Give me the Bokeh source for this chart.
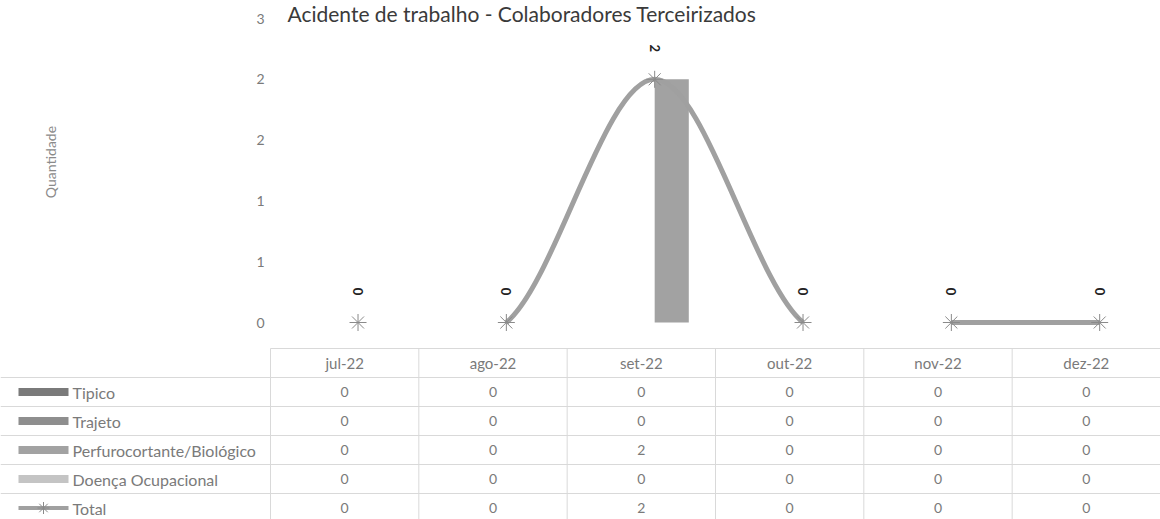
import math
from bokeh.plotting import figure
from bokeh.models import Range1d, FixedTicker, ColumnDataSource, LinearAxis
from bokeh.embed import file_html
from bokeh.resources import INLINE
from bokeh.core.properties import value

# ---------------- data ----------------
months = ["jul-22", "ago-22", "set-22", "out-22", "nov-22", "dez-22"]
series_names = ["Tipico", "Trajeto", "Perfurocortante/Biológico", "Doença Ocupacional"]
tipico = [0, 0, 0, 0, 0, 0]
trajeto = [0, 0, 0, 0, 0, 0]
perfuro = [0, 0, 2, 0, 0, 0]
doenca = [0, 0, 0, 0, 0, 0]
total = [0, 0, 2, 0, 0, 0]
total_name = "Total"
y_ticks = [0, 0.5, 1, 1.5, 2, 2.5]
y_tick_labels = ["0", "1", "1", "2", "2", "3"]
title_text = "Acidente de trabalho - Colaboradores Terceirizados"
y_label = "Quantidade"

# ---------------- styles / layout ----------------
FONT = value("Lato")
series_colors = ["#7a7a7a", "#8e8e8e", "#a2a2a2", "#c4c4c4"]
line_color = "#a0a0a0"
marker_color = "#8a8a8a"
text_gray = "#7a7a7a"
grid_gray = "#d9d9d9"
seg_alpha = [0.0, 1.0, 1.0, 0.0, 1.0]   # segments faded out in the scanned original

W, H = 1160, 519
LEFT_PX = 270            # width of the row-label column (px)
n = len(months)
unit = (W - LEFT_PX) / n  # px per category column
left = -LEFT_PX / unit
row_h = 29               # table row height (px)
tbl_top = 348            # y of the table's top line
zero_px = 322            # y of value 0 in the chart
vpx = 121.6              # px per unit value in the chart
shift = 0.09             # chart drawn slightly right of table columns (as in original)

xs = [i + 0.5 for i in range(n)]

p = figure(width=W, height=H, x_range=Range1d(left, n),
           y_range=Range1d(-(H - zero_px) / vpx, zero_px / vpx),
           x_axis_type=None, y_axis_type=None, output_backend="svg",
           toolbar_location=None, min_border=0)
p.extra_x_ranges = {"chart": Range1d(left - shift, n - shift)}
p.extra_y_ranges = {"tbl": Range1d(-0.5 + (H - tbl_top) / row_h, -0.5 - tbl_top / row_h)}
p.xgrid.visible = False
p.ygrid.visible = False
p.outline_line_color = None
p.background_fill_color = "white"
p.border_fill_color = "white"

ya = LinearAxis(fixed_location=0)
ya.ticker = FixedTicker(ticks=y_ticks)
ya.major_label_overrides = {float(t): l for t, l in zip(y_ticks, y_tick_labels)}
ya.bounds = (0, 2.64)
ya.axis_line_color = None
ya.major_tick_line_color = None
ya.minor_tick_line_color = None
ya.major_label_text_color = text_gray
ya.major_label_text_font = "Lato"
ya.major_label_text_font_size = "14px"
ya.major_label_standoff = 0
ya.axis_label = y_label
ya.axis_label_text_font = "Lato"
ya.axis_label_text_font_size = "14px"
ya.axis_label_text_font_style = "normal"
ya.axis_label_text_color = "#8a8a8a"
ya.axis_label_standoff = 194
p.add_layout(ya, "left")

# clustered bars
bar_w = 0.23
series_vals = [tipico, trajeto, perfuro, doenca]
for s, (vals, col) in enumerate(zip(series_vals, series_colors)):
    off = (s - (len(series_vals) - 1) / 2) * bar_w
    p.vbar(x=[x + off for x in xs], top=vals, bottom=0, width=bar_w,
           fill_color=col, line_color=None, x_range_name="chart")

# smoothed total line (Excel-style cubic bezier through the points)
x0, y0, x1, y1, cx0, cy0, cx1, cy1 = ([] for _ in range(8))
for k in range(n - 1):
    p0 = max(k - 1, 0)
    p3 = min(k + 2, n - 1)
    x0.append(xs[k]); y0.append(total[k])
    x1.append(xs[k + 1]); y1.append(total[k + 1])
    cx0.append(xs[k] + (xs[k + 1] - xs[p0]) / 6)
    cy0.append(total[k] + (total[k + 1] - total[p0]) / 6)
    cx1.append(xs[k + 1] - (xs[p3] - xs[k]) / 6)
    cy1.append(total[k + 1] - (total[p3] - total[k]) / 6)
bsrc = ColumnDataSource(dict(x0=x0, y0=y0, x1=x1, y1=y1, cx0=cx0, cy0=cy0,
                             cx1=cx1, cy1=cy1, a=seg_alpha))
p.bezier(x0="x0", y0="y0", x1="x1", y1="y1", cx0="cx0", cy0="cy0",
         cx1="cx1", cy1="cy1", line_color=line_color, line_width=5,
         line_alpha="a", source=bsrc, x_range_name="chart")
p.scatter(x=xs, y=total, marker="asterisk", size=17, line_color=marker_color,
          line_width=1, x_range_name="chart")

# data labels (rotated)
p.text(x=xs, y=total, text=[str(v) for v in total], angle=-math.pi / 2,
       y_offset=-31, text_align="center", text_baseline="middle",
       text_font=FONT, text_font_size="13px", text_font_style="bold",
       text_color="#222222", x_range_name="chart")

# title
p.text(x=[17 / unit], y=[zero_px / vpx], text=[title_text], text_align="left",
       text_baseline="top", text_font=FONT, text_font_size="21px",
       text_color="#3a3a3a")

# ---------------- data table ----------------
rows = series_names + [total_name]
row_vals = series_vals + [total]
nr = len(rows)

hx0 = [0] + [left] * nr
hx1 = [n] * (nr + 1)
hy = [-0.5] + [r + 0.5 for r in range(nr)]
p.segment(x0=hx0, y0=hy, x1=hx1, y1=hy, line_color=grid_gray, line_width=1,
          y_range_name="tbl")
vxs = list(range(n + 1))
p.segment(x0=vxs, y0=[-0.5] * len(vxs), x1=vxs, y1=[nr + 0.5] * len(vxs),
          line_color=grid_gray, line_width=1, y_range_name="tbl")

# header
p.text(x=xs, y=[0] * n, text=months, text_align="center", text_baseline="middle",
       text_font=FONT, text_font_size="15px", text_color=text_gray, y_range_name="tbl")

# cells
cx, cy, ct = [], [], []
for r, vals in enumerate(row_vals):
    for i, v in enumerate(vals):
        cx.append(xs[i]); cy.append(r + 1); ct.append(str(v))
p.text(x=cx, y=cy, text=ct, text_align="center", text_baseline="middle",
       text_font=FONT, text_font_size="14px", text_color=text_gray, y_range_name="tbl")

# row labels + legend keys
key_l = left + 18 / unit
key_r = left + 68 / unit
key_c = (key_l + key_r) / 2
lab_x = left + 72 / unit
p.text(x=[lab_x] * nr, y=[r + 1 for r in range(nr)], text=rows, text_align="left",
       text_baseline="middle", text_font=FONT, text_font_size="16px",
       text_color=text_gray, y_range_name="tbl")
p.rect(x=[key_c] * len(series_names), y=[r + 1 for r in range(len(series_names))],
       width=key_r - key_l, height=8, height_units="screen",
       fill_color=series_colors, line_color=None, y_range_name="tbl")
p.segment(x0=[key_l], y0=[nr], x1=[key_r], y1=[nr], line_color=line_color,
          line_width=4, y_range_name="tbl")
p.scatter(x=[key_c], y=[nr], marker="asterisk", size=12, line_color=marker_color,
          y_range_name="tbl")

open("out.html", "w").write(file_html(p, INLINE))
